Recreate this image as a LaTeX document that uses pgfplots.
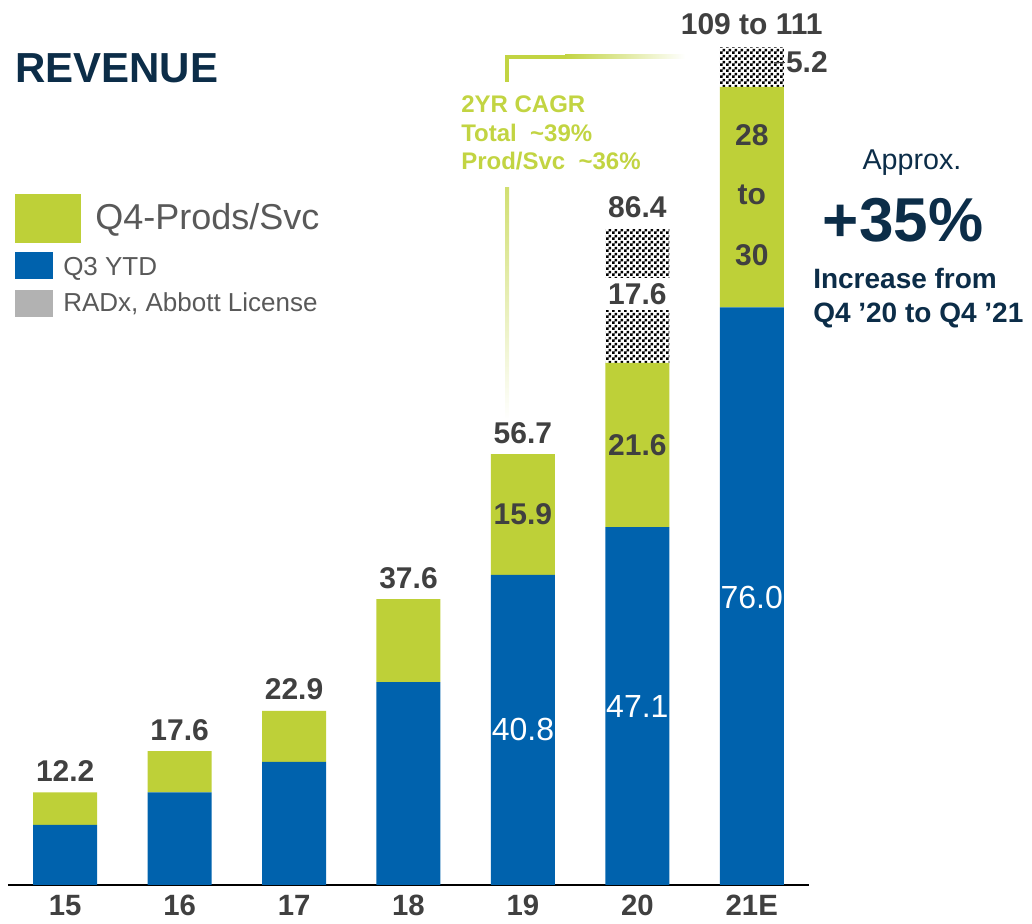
\documentclass[border=0pt]{standalone}
\usepackage{pgfplots}
\pgfplotsset{compat=1.18}
\usepackage{fontspec}
\setmainfont{Liberation Sans}
\usetikzlibrary{patterns}
\pgfdeclarepatternformonly{smallcheck}{\pgfpointorigin}{\pgfqpoint{4.5pt}{4.5pt}}{\pgfqpoint{4.5pt}{4.5pt}}{%
 \pgfpathrectangle{\pgfpointorigin}{\pgfqpoint{2.25pt}{2.25pt}}%
 \pgfpathrectangle{\pgfqpoint{2.25pt}{2.25pt}}{\pgfqpoint{2.25pt}{2.25pt}}%
 \pgfusepath{fill}}
\definecolor{barblue}{RGB}{0,98,173}
\definecolor{bargreen}{RGB}{190,208,56}
\definecolor{navy}{RGB}{12,45,72}
\definecolor{dgray}{RGB}{64,64,64}
\definecolor{lgray}{RGB}{89,89,89}
\definecolor{cagr}{RGB}{194,212,66}
\definecolor{legray}{RGB}{178,178,178}
\tikzset{
  lab/.style={anchor=base, inner sep=0, text=dgray, font=\fontsize{22.5}{22.5}\selectfont\bfseries},
  inl/.style={anchor=center, inner sep=0, text=dgray, font=\fontsize{22.5}{22.5}\selectfont\bfseries},
  wl/.style={anchor=center, inner sep=0, text=white, font=\fontsize{24}{24}\selectfont},
}
\begin{document}
\begin{tikzpicture}
\begin{scope}[x=0.75pt,y=0.75pt]
\path[use as bounding box] (0,0) rectangle (1032,924);
% title
\node[anchor=base west, inner sep=0, text=navy, font=\fontsize{31.5}{31.5}\selectfont\bfseries] at (15,841) {REVENUE};
% legend
\fill[bargreen] (15,681) rectangle (81,730);
\node[anchor=base west, inner sep=0, text=lgray, font=\fontsize{27}{27}\selectfont] at (95,694) {Q4-Prods/Svc};
\fill[barblue] (15,645) rectangle (53,672);
\node[anchor=base west, inner sep=0, text=lgray, font=\fontsize{19.5}{19.5}\selectfont] at (63,648) {Q3 YTD};
\fill[legray] (15,607) rectangle (53,634);
\node[anchor=base west, inner sep=0, text=lgray, font=\fontsize{19.5}{19.5}\selectfont] at (63,612) {RADx, Abbott License};
% right annotation
\node[anchor=base, inner sep=0, text=navy, font=\fontsize{21.5}{21.5}\selectfont] at (912,754) {Approx.};
\node[anchor=base, inner sep=0, text=navy, font=\fontsize{46.5}{46.5}\selectfont\bfseries] at (903,682) {+35\%};
\node[anchor=base west, inner sep=0, text=navy, font=\fontsize{21}{21}\selectfont\bfseries] at (813,635) {Increase from};
\node[anchor=base west, inner sep=0, text=navy, font=\fontsize{21}{21}\selectfont\bfseries] at (813,601) {Q4 ’20 to Q4 ’21};
% CAGR text
\node[anchor=base west, inner sep=0, text=cagr, font=\fontsize{18}{18}\selectfont\bfseries] at (461,811) {2YR CAGR};
\node[anchor=base west, inner sep=0, text=cagr, font=\fontsize{18}{18}\selectfont\bfseries] at (461,782) {Total\ \ \textasciitilde39\%};
\node[anchor=base west, inner sep=0, text=cagr, font=\fontsize{18}{18}\selectfont\bfseries] at (461,754) {Prod/Svc\ \ \textasciitilde36\%};
% bracket lines
\fill[cagr] (505,842) rectangle (509,869);
\fill[cagr] (505,865) rectangle (565,869);
\shade[left color=cagr, right color=white] (565,865) rectangle (685,869);
\shade[top color=cagr!75, bottom color=white] (505,504) rectangle (509,736);
\end{scope}
\begin{axis}[at={(6pt,29.25pt)}, anchor=south west, scale only axis,
  width=600.75pt, height=661.2pt,
  xmin=-0.5, xmax=6.5, ymin=0, ymax=116, enlargelimits=false, clip=false,
  ybar stacked, bar width=48pt,
  axis x line=bottom, axis y line=none,
  x axis line style={black, line width=1.5pt, -},
  xtick={0,...,6}, xticklabels={15,16,17,18,19,20,21E},
  major tick length=0pt,
  xticklabel style={font=\fontsize{22}{22}\selectfont\bfseries, text=dgray, anchor=north, yshift=-4pt},
  /pgf/number format/assume math mode=true,
]
\addplot[fill=barblue, draw=none] coordinates {(0,7.9)(1,12.2)(2,16.2)(3,26.7)(4,40.8)(5,47.1)(6,76.0)};
\addplot[fill=bargreen, draw=none] coordinates {(0,4.3)(1,5.4)(2,6.7)(3,10.9)(4,15.9)(5,21.6)(6,29.0)};
\addplot[draw=none, pattern=smallcheck, pattern color=black] coordinates {(0,0)(1,0)(2,0)(3,0)(4,0)(5,17.6)(6,5.2)};
\coordinate (t0) at (axis cs:0,12.2);
\coordinate (t1) at (axis cs:1,17.6);
\coordinate (t2) at (axis cs:2,22.9);
\coordinate (t3) at (axis cs:3,37.6);
\coordinate (t4) at (axis cs:4,56.7);
\coordinate (t5) at (axis cs:5,86.3);
\coordinate (t6) at (axis cs:6,110.2);
\coordinate (g4) at (axis cs:4,48.75);
\coordinate (g5) at (axis cs:5,57.9);
\coordinate (r5) at (axis cs:5,77.8);
\coordinate (b4) at (axis cs:4,20.4);
\coordinate (b5) at (axis cs:5,23.55);
\coordinate (b6) at (axis cs:6,37.8);
\coordinate (g6a) at (axis cs:6,98.7);
\coordinate (g6b) at (axis cs:6,90.8);
\coordinate (g6c) at (axis cs:6,82.9);
\coordinate (r6) at (axis cs:6,108.2);
\end{axis}
% labels over the bars
\node[lab, yshift=8.25pt] at (t0) {12.2};
\node[lab, yshift=8.25pt] at (t1) {17.6};
\node[lab, yshift=8.25pt] at (t2) {22.9};
\node[lab, yshift=8.25pt] at (t3) {37.6};
\node[lab, yshift=8.25pt] at (t4) {56.7};
\node[lab, yshift=9pt] at (t5) {86.4};
\node[lab, yshift=9.75pt] at (t6) {109 to 111};
\node[inl] at (g4) {15.9};
\node[inl] at (g5) {21.6};
\node[fill=white, minimum width=52pt, minimum height=24pt, inner sep=0, text=dgray, font=\fontsize{22.5}{22.5}\selectfont\bfseries] at (r5) {17.6};
\node[wl] at (b4) {40.8};
\node[wl] at (b5) {47.1};
\node[wl] at (b6) {76.0};
\node[inl] at (g6a) {28};
\node[inl] at (g6b) {to};
\node[inl] at (g6c) {30};
\draw[dgray, line width=0.6pt] ([xshift=17pt]r6) -- ([xshift=25pt]r6);
\node[anchor=west, inner sep=0, text=dgray, font=\fontsize{22.5}{22.5}\selectfont\bfseries, xshift=25.5pt] at (r6) {5.2};
\end{tikzpicture}
\end{document}
